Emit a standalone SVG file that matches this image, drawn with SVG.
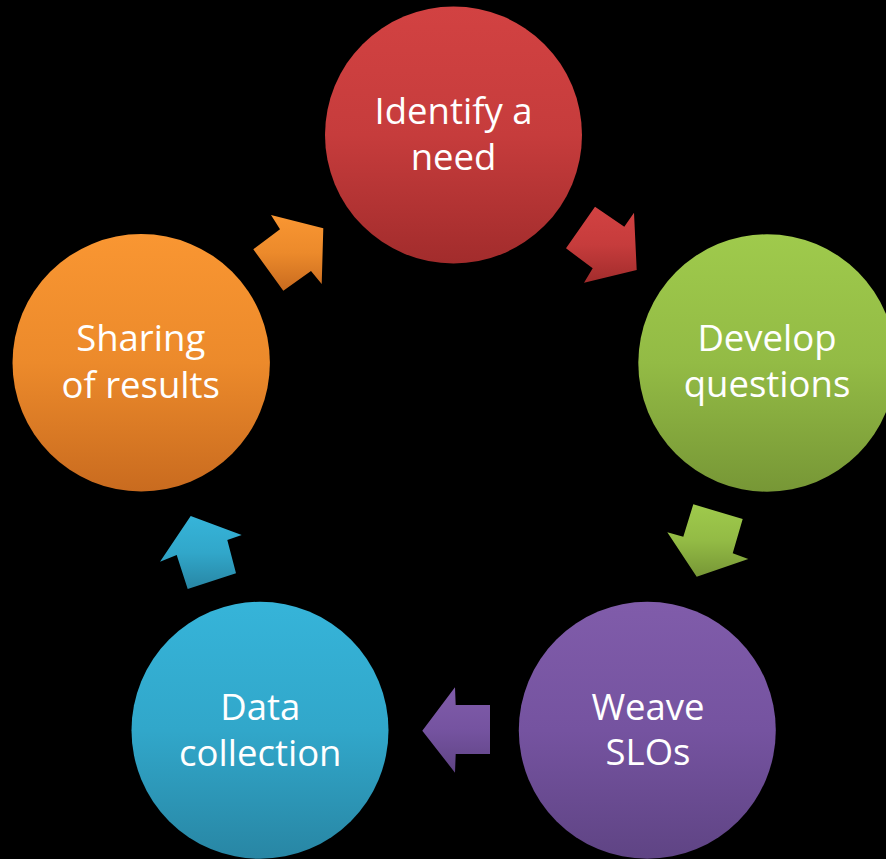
<svg xmlns="http://www.w3.org/2000/svg" width="886" height="859" viewBox="0 0 886 859">
<defs>
<linearGradient id="gRed" x1="0" y1="0" x2="0" y2="1"><stop offset="0" stop-color="#d24242"/><stop offset="0.5" stop-color="#c63c3c"/><stop offset="1" stop-color="#a22c2c"/></linearGradient>
<linearGradient id="gGreen" x1="0" y1="0" x2="0" y2="1"><stop offset="0" stop-color="#9fca4c"/><stop offset="0.5" stop-color="#93bb45"/><stop offset="1" stop-color="#779736"/></linearGradient>
<linearGradient id="gPurple" x1="0" y1="0" x2="0" y2="1"><stop offset="0" stop-color="#805caa"/><stop offset="0.5" stop-color="#7553a0"/><stop offset="1" stop-color="#5f4484"/></linearGradient>
<linearGradient id="gBlue" x1="0" y1="0" x2="0" y2="1"><stop offset="0" stop-color="#36b4d9"/><stop offset="0.5" stop-color="#31a7ca"/><stop offset="1" stop-color="#2886a4"/></linearGradient>
<linearGradient id="gOrange" x1="0" y1="0" x2="0" y2="1"><stop offset="0" stop-color="#f99632"/><stop offset="0.5" stop-color="#ec8a2b"/><stop offset="1" stop-color="#c96b1f"/></linearGradient>
</defs>
<style>
text{font-family:"Open Sans","Noto Sans",sans-serif;font-size:36.5px;fill:#ffffff;text-anchor:middle}
</style>
<rect x="0" y="0" width="886" height="859" fill="#000000"/>
<g id="connectors">
<polygon fill="url(#gRed)" points="566,248.3 595,206.7 624.3,226.7 634,212.7 636.7,270 584,282.7 592.7,268.3"/>
<polygon fill="url(#gGreen)" points="693.3,504.3 742.7,519 732.7,553.3 748.3,559 696.7,576.7 667.3,532.3 683.3,536.7"/>
<polygon fill="url(#gPurple)" points="455,687.3 455.7,705 490,705 490,754 455.7,754 455,772.7 422.3,730.7"/>
<polygon fill="url(#gBlue)" points="190.7,516 241.7,535 227.3,540 236,573.3 187.7,589 176.7,555 160,561.7"/>
<polygon fill="url(#gOrange)" points="271,215 323.3,228.3 321.7,284 311,271 283.3,290.7 253.3,249.3 280,229.3"/>
</g>
<g id="identify">
<circle cx="453.5" cy="135" r="128.5" fill="url(#gRed)"/>
<text x="453.5" y="124">Identify a</text>
<text x="453.5" y="170">need</text>
</g>
<g id="develop">
<circle cx="767" cy="363" r="128.7" fill="url(#gGreen)"/>
<text x="767" y="351">Develop</text>
<text x="767" y="397">questions</text>
</g>
<g id="weave">
<circle cx="647.3" cy="730.3" r="128.5" fill="url(#gPurple)"/>
<text x="648" y="720">Weave</text>
<text x="648" y="765">SLOs</text>
</g>
<g id="data">
<circle cx="260" cy="730.3" r="128.5" fill="url(#gBlue)"/>
<text x="260.3" y="720">Data</text>
<text x="260.3" y="765.5">collection</text>
</g>
<g id="sharing">
<circle cx="141.2" cy="362.8" r="128.7" fill="url(#gOrange)"/>
<text x="140.7" y="351">Sharing</text>
<text x="140.7" y="397.5">of results</text>
</g>
</svg>
